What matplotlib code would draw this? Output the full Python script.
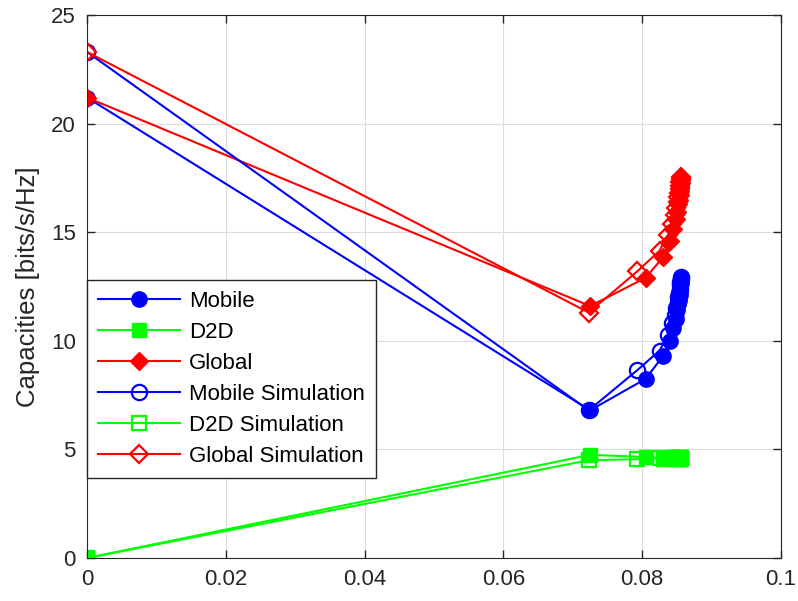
import matplotlib.pyplot as plt

plt.rcParams['font.family'] = ['Liberation Sans', 'DejaVu Sans']

# analytical model
x_model = [0, 0.0725, 0.0805, 0.0830, 0.0840, 0.0845, 0.0848, 0.0850, 0.0852,
           0.0853, 0.0854, 0.0855, 0.0855, 0.0856, 0.0856, 0.0856]
mobile = [21.2, 6.8, 8.25, 9.3, 10.0, 10.6, 11.0, 11.4, 11.7, 11.9, 12.1, 12.3,
          12.5, 12.65, 12.8, 12.9]
d2d = [0.0, 4.75, 4.65, 4.58, 4.6, 4.58, 4.6, 4.58, 4.6, 4.6, 4.58, 4.6, 4.58,
       4.6, 4.6, 4.6]
glob = [21.2, 11.6, 12.9, 13.85, 14.6, 15.15, 15.6, 15.95, 16.3, 16.5, 16.7,
        16.9, 17.1, 17.25, 17.4, 17.5]

# simulation results
x_sim = [0, 0.0723, 0.0793, 0.0825, 0.0837, 0.0843, 0.0847, 0.0849, 0.0851,
         0.0852, 0.0853, 0.0854, 0.0855, 0.0855, 0.0856, 0.0856]
mobile_sim = [23.3, 6.8, 8.65, 9.55, 10.25, 10.8, 11.2, 11.5, 11.8, 12.0, 12.2,
              12.4, 12.55, 12.7, 12.85, 12.95]
d2d_sim = [0.0, 4.5, 4.55, 4.6, 4.6, 4.6, 4.6, 4.6, 4.6, 4.6, 4.6, 4.6, 4.6,
           4.6, 4.6, 4.6]
glob_sim = [23.3, 11.3, 13.2, 14.15, 14.85, 15.4, 15.8, 16.1, 16.4, 16.6, 16.8,
            17.0, 17.15, 17.3, 17.45, 17.55]

fig = plt.figure(figsize=(7.98, 6.01), dpi=100)
ax = fig.add_axes([87 / 798, 43 / 601, 694 / 798, 543 / 601])

ms = 11
lw = 1.5
ax.plot(x_model, mobile, '-o', color='blue', lw=lw, ms=ms, label='Mobile')
ax.plot(x_model, d2d, '-s', color='#00ff00', lw=lw, ms=ms - 1, label='D2D')
ax.plot(x_model, glob, '-D', color='red', lw=lw, ms=ms - 1.5, label='Global')
ax.plot(x_sim, mobile_sim, '-o', color='blue', lw=lw, ms=ms, mfc='none',
        mew=1.6, label='Mobile Simulation')
ax.plot(x_sim, d2d_sim, '-s', color='#00ff00', lw=lw, ms=ms - 1, mfc='none',
        mew=1.6, label='D2D Simulation')
ax.plot(x_sim, glob_sim, '-D', color='red', lw=lw, ms=ms - 1.5, mfc='none',
        mew=1.6, label='Global Simulation')

ax.set_xlim(0, 0.1)
ax.set_ylim(0, 25)
ax.set_xticks([0, 0.02, 0.04, 0.06, 0.08, 0.1])
ax.set_xticklabels(['0', '0.02', '0.04', '0.06', '0.08', '0.1'])
ax.set_yticks([0, 5, 10, 15, 20, 25])
ax.grid(True, color='#dcdcdc', lw=0.8)
ax.set_axisbelow(True)
ax.tick_params(direction='in', labelsize=16, colors='#262626', length=6,
               width=1, top=True, right=True, pad=8)
for sp in ax.spines.values():
    sp.set_color('#262626')
ax.set_ylabel('Capacities [bits/s/Hz]', fontsize=18.5, color='#262626',
              labelpad=8)

leg = ax.legend(loc='upper left', bbox_to_anchor=(0, 0.512), fontsize=16,
                fancybox=False, framealpha=1, edgecolor='#262626',
                borderaxespad=0, handlelength=3.7, handletextpad=0.4,
                borderpad=0.5, labelspacing=0.45)
leg.get_frame().set_linewidth(1.0)

fig.savefig('out.png', dpi=100)
